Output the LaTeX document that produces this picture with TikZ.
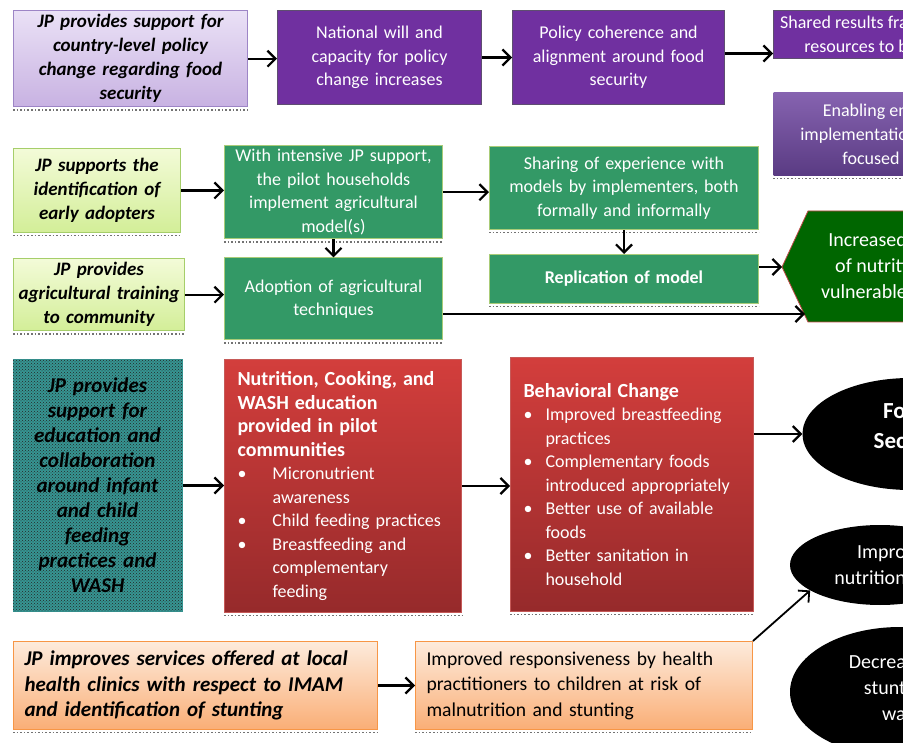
\documentclass[tikz,border=0pt]{standalone}
\usepackage{fontspec}
\setmainfont{Carlito}
\usetikzlibrary{arrows.meta,positioning,shapes.geometric,patterns}

\definecolor{lavtop}{HTML}{EAE1F6}
\definecolor{lavbot}{HTML}{C8B2E2}
\definecolor{lavedge}{HTML}{9D85C6}
\definecolor{jppurple}{HTML}{7030A0}
\definecolor{purpleedge}{HTML}{5E4E70}
\definecolor{enabtop}{HTML}{8663B0}
\definecolor{enabbot}{HTML}{5A3B83}
\definecolor{limetop}{HTML}{F3FBD8}
\definecolor{limebot}{HTML}{D3EE98}
\definecolor{limeedge}{HTML}{A6CE6A}
\definecolor{jpgreen}{HTML}{339966}
\definecolor{greenedge}{HTML}{A9CC78}
\definecolor{hexgreen}{HTML}{006600}
\definecolor{hexedge}{HTML}{C04848}
\definecolor{edteal}{HTML}{369592}
\definecolor{redtop}{HTML}{D33E3C}
\definecolor{redbot}{HTML}{962A2B}
\definecolor{rededge}{HTML}{C65A58}
\definecolor{ortop}{HTML}{FDEBDC}
\definecolor{orbot}{HTML}{FAAE76}
\definecolor{oredge}{HTML}{F79646}

% bullet line with hanging indent: #1 indent, #2 bullet offset
\newcommand{\bul}[2]{\par\noindent\hangindent=#1\hangafter=1\makebox[#1][l]{\hspace{#2}\textbullet}}

\begin{document}
\begin{tikzpicture}[x=1pt, y=-1pt,
    box/.style={anchor=north west, align=center, inner sep=4pt, line width=1pt},
    dotshadow/.style={append after command={([yshift=-2.5pt]\tikzlastnode.south west) edge[draw=black!55, dotted, line width=1.6pt] ([yshift=-2.5pt]\tikzlastnode.south east)}},
    jpbox/.style={box, text=black, font=\fontsize{19}{24}\selectfont\bfseries\itshape},
    outbox/.style={box, text=white, font=\fontsize{18}{23.5}\selectfont},
    purplebox/.style={outbox, fill=jppurple, draw=purpleedge},
    greenbox/.style={outbox, fill=jpgreen, draw=greenedge, dotshadow},
    redbox/.style={outbox, align=left, top color=redtop, bottom color=redbot, draw=rededge, inner xsep=13pt, dotshadow},
    orangebox/.style={box, align=left, top color=ortop, bottom color=orbot, draw=oredge, inner xsep=11pt, dotshadow},
    limebox/.style={jpbox, top color=limetop, bottom color=limebot, draw=limeedge, dotshadow},
    blob/.style={ellipse, fill=black, inner sep=0pt},
    edgetxt/.style={anchor=east, align=right, inner sep=0pt, text=white, font=\fontsize{18}{24}\selectfont},
    arr/.style={-{Straight Barb[length=8pt,width=16pt]}, line width=2.2pt}]
  \useasboundingbox (0,0) rectangle (903,743);
  \clip (0,0) rectangle (903,743);

  % policy row
  \node[jpbox, top color=lavtop, bottom color=lavbot, draw=lavedge, dotshadow, minimum width=234, minimum height=96, text width=226] (policy) at (13,10)
    {JP provides support for\\country-level policy\\change regarding food\\security};
  \node[purplebox, minimum width=204, minimum height=94, text width=196] (will) at (277,10)
    {National will and\\capacity for policy\\change increases};
  \node[purplebox, minimum width=212, minimum height=94, text width=204] (coherence) at (512,10)
    {Policy coherence and\\alignment around food\\security};
  \node[purplebox, minimum width=200, minimum height=48] (shared) at (773,10) {};
  \node[edgetxt] (sharedtxt) at (908,34) {Shared results fra\\resources to b};
  \node[box, top color=enabtop, bottom color=enabbot, draw=none, dotshadow, minimum width=200, minimum height=83] (enabling) at (773,92) {};
  \node[edgetxt] (enablingtxt) at (908,134) {Enabling en\\implementatio\\focused i};

  \draw[arr] (policy.east) -- (policy.east -| will.west);
  \draw[arr] (will.east) -- (will.east -| coherence.west);
  \draw[arr] ([yshift=4pt]coherence.east) -- ([yshift=4pt]coherence.east -| shared.west);

  % agriculture rows
  \node[limebox, minimum width=167, minimum height=84, text width=159] (adopters) at (13,148)
    {JP supports the\\identification of\\early adopters};
  \node[limebox, below=25pt of adopters.south west, anchor=north west, minimum width=167, minimum height=72, text width=163] (training)
    {JP provides\\agricultural training\\to community};
  \node[greenbox, minimum width=218, minimum height=91, text width=210] (pilot) at (224,145)
    {With intensive JP support,\\the pilot households\\implement agricultural\\model(s)};
  \node[greenbox, below=18pt of pilot.south west, anchor=north west, minimum width=218, minimum height=82, text width=210] (adoption)
    {Adoption of agricultural\\techniques};
  \node[greenbox, minimum width=269, minimum height=83, text width=261] (sharing) at (489,146)
    {Sharing of experience with\\models by implementers, both\\formally and informally};
  \node[greenbox, below=24pt of sharing.south west, anchor=north west, minimum width=269, minimum height=49, text width=261] (replication)
    {\bfseries Replication of model};

  \draw[fill=hexgreen, draw=hexedge, line width=0.8pt] (782,267) coordinate (inctip)
    -- (808,211) -- (960,211) -- (960,322) -- (808,322) -- cycle;
  \coordinate (incfoot) at (805,314);
  \node[edgetxt, font=\fontsize{20}{26}\selectfont] (inctxt) at (907,266) {Increased\\of nutriti\\vulnerable};

  \draw[arr] (adopters.east) -- (adopters.east -| pilot.west);
  \draw[arr] (training.east) -- (training.east -| adoption.west);
  \draw[arr] (pilot.east) -- (pilot.east -| sharing.west);
  \draw[arr] (pilot) -- (adoption);
  \draw[arr] (sharing) -- (replication);
  \draw[arr] (replication.east |- inctip) -- (inctip);
  \draw[arr] (adoption.east |- incfoot) -- (incfoot);

  % nutrition row
  \node[jpbox, fill=edteal, postaction={pattern=crosshatch dots, pattern color=black!85}, minimum width=168, minimum height=252, text width=162,
    font=\fontsize{21}{25}\selectfont\bfseries\itshape] (education) at (12,359)
    {JP provides\\support for\\education and\\collaboration\\around infant\\and child\\feeding\\practices and\\WASH};
  \node[redbox, minimum width=237, minimum height=253, text width=211] (cooking) at (224,359)
    {{\fontsize{20}{23.5}\selectfont\bfseries Nutrition, Cooking, and\\WASH education\\provided in pilot\\communities\par}
     \bul{35pt}{0pt}Micronutrient\newline awareness
     \bul{35pt}{0pt}Child feeding practices
     \bul{35pt}{0pt}Breastfeeding and\newline complementary\newline feeding\par};
  \node[redbox, minimum width=243, minimum height=254, text width=217] (behavior) at (510,357)
    {{\fontsize{20}{23.5}\selectfont\bfseries Behavioral Change\par}
     \bul{22pt}{0pt}Improved breastfeeding\newline practices
     \bul{22pt}{0pt}Complementary foods\newline introduced appropriately
     \bul{22pt}{0pt}Better use of available\newline foods
     \bul{22pt}{0pt}Better sanitation in\newline household\par};

  \node[blob, minimum width=215, minimum height=112] (food) at (910,434) {};
  \node[edgetxt, font=\fontsize{23}{30}\selectfont\bfseries] (foodtxt) at (906,426) {Fo\\Sec};
  \node[blob, minimum width=180, minimum height=80] (nutrition) at (880,565) {};
  \node[edgetxt, font=\fontsize{20}{26}\selectfont] (nutritiontxt) at (906,565) {Impro\\nutrition};
  \node[blob, minimum width=220, minimum height=130] (stunting) at (900,692) {};
  \node[edgetxt, font=\fontsize{20}{26}\selectfont] (stuntingtxt) at (906,688) {Decrea\\stunt\\wa};

  \draw[arr] (education.east) -- (education.east -| cooking.west);
  \draw[arr] (cooking.east) -- (cooking.east -| behavior.west);
  \draw[arr] (behavior.east |- food.west) -- (food.west);

  % clinic row
  \node[orangebox, minimum width=364, minimum height=88, text width=342, font=\fontsize{21}{25.5}\selectfont\bfseries\itshape] (clinic) at (13,641)
    {JP improves services offered at local\\health clinics with respect to IMAM\\and identification of stunting};
  \node[orangebox, minimum width=337, minimum height=88, text width=315, font=\fontsize{19.6}{25.5}\selectfont] (respond) at (415,641)
    {Improved responsiveness by health\\practitioners to children at risk of\\malnutrition and stunting};

  \draw[arr] (clinic) -- (respond);
  \draw[arr, line width=1.8pt] (respond.north east) -- (nutrition.200);
\end{tikzpicture}
\end{document}
